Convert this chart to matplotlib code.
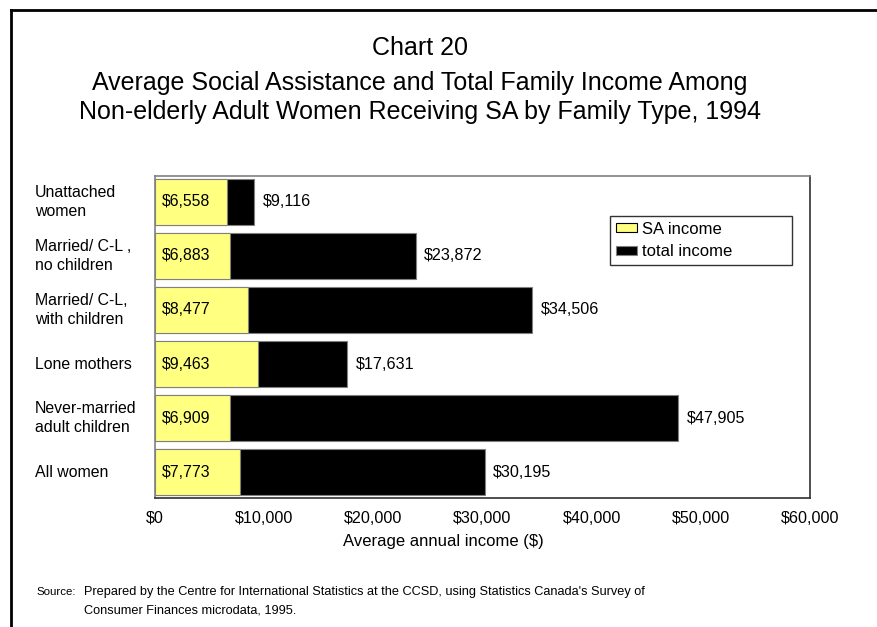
import matplotlib
matplotlib.use('Agg')
import matplotlib.pyplot as plt
from matplotlib.lines import Line2D
import matplotlib.transforms as mtransforms
from matplotlib import font_manager

plt.rcParams['font.family'] = ['Liberation Sans', 'DejaVu Sans']

# data
categories = ['Unattached\nwomen', 'Married/ C-L ,\nno children', 'Married/ C-L,\nwith children',
              'Lone mothers', 'Never-married\nadult children', 'All women']
sa_income = [6558, 6883, 8477, 9463, 6909, 7773]
total_income = [9116, 23872, 34506, 17631, 47905, 30195]
xticks = [0, 10000, 20000, 30000, 40000, 50000, 60000]

# narrow font for the source note if there is one
names = set(f.name for f in font_manager.fontManager.ttflist)
if 'Liberation Sans Narrow' in names:
    srcfont, srcsize = 'Liberation Sans Narrow', 10.3
else:
    srcfont, srcsize = 'Liberation Sans', 9.2

fig = plt.figure(figsize=(8.78, 6.27), dpi=100)
ax = fig.add_axes([0.1765, 0.2057, 0.746, 0.5136])

ypos = list(range(len(categories)))
ax.barh(ypos, total_income, height=0.85, color='black', edgecolor='#808080', linewidth=0.8,
        label='total income', zorder=2)
ax.barh(ypos, sa_income, height=0.85, color='#FFFF80', edgecolor='#808080', linewidth=0.8,
        label='SA income', zorder=3)

for y, s, t in zip(ypos, sa_income, total_income):
    ax.text(640, y, '${:,}'.format(s), va='center', ha='left', fontsize=11.4, zorder=4)
    ax.text(t + 800, y, '${:,}'.format(t), va='center', ha='left', fontsize=11.6)

ax.set_xlim(0, 60000)
ax.set_ylim(5.48, -0.48)
ax.set_xticks(xticks)
ax.set_xticklabels(['${:,}'.format(v) for v in xticks], fontsize=11.6)
ax.tick_params(axis='x', length=0, pad=9)
ax.set_yticks([])
ax.set_xlabel('Average annual income ($)', fontsize=12, va='center')
ax.xaxis.set_label_coords(0.44, -0.1335)

for side in ['top', 'left']:
    ax.spines[side].set_color('#808080')
    ax.spines[side].set_linewidth(1.2)
for side in ['right', 'bottom']:
    ax.spines[side].set_color('#303030')
    ax.spines[side].set_linewidth(1.2)

# category labels, left of the plot
trans = mtransforms.blended_transform_factory(fig.transFigure, ax.transData)
for y, c in zip(ypos, categories):
    ax.text(0.040, y, c, transform=trans, ha='left', va='center', fontsize=11.4, linespacing=1.3)

h, l = ax.get_legend_handles_labels()
leg = ax.legend(h[::-1], l[::-1], loc='upper left', bbox_to_anchor=(0.695, 0.727, 0.2775, 0.149),
                mode='expand', fontsize=12, frameon=True, fancybox=False, borderpad=0.35,
                handlelength=1.25, handleheight=0.45, handletextpad=0.3, labelspacing=0.45,
                borderaxespad=0)
leg.get_frame().set_edgecolor('black')
leg.get_frame().set_linewidth(1.0)
leg.legend_handles[0].set_edgecolor('black')

# titles
fig.text(0.478, 0.923, 'Chart 20', ha='center', va='center', fontsize=18)
fig.text(0.478, 0.868, 'Average Social Assistance and Total Family Income Among', ha='center', va='center', fontsize=18)
fig.text(0.478, 0.822, 'Non-elderly Adult Women Receiving SA by Family Type, 1994', ha='center', va='center', fontsize=18)

# source
fig.text(0.042, 0.056, 'Source:', ha='left', va='center', fontsize=srcsize * 0.9, family=srcfont)
fig.text(0.096, 0.056, "Prepared by the Centre for International Statistics at the CCSD, using Statistics Canada's Survey of",
         ha='left', va='center', fontsize=srcsize, family=srcfont)
fig.text(0.096, 0.026, 'Consumer Finances microdata, 1995.', ha='left', va='center', fontsize=srcsize, family=srcfont)

# outer frame
fig.add_artist(Line2D([0.0125, 1.0], [0.984, 0.984], transform=fig.transFigure, color='black', linewidth=2))
fig.add_artist(Line2D([0.0125, 0.0125], [0.0, 0.984], transform=fig.transFigure, color='black', linewidth=2))

fig.savefig('out.png', dpi=100)
